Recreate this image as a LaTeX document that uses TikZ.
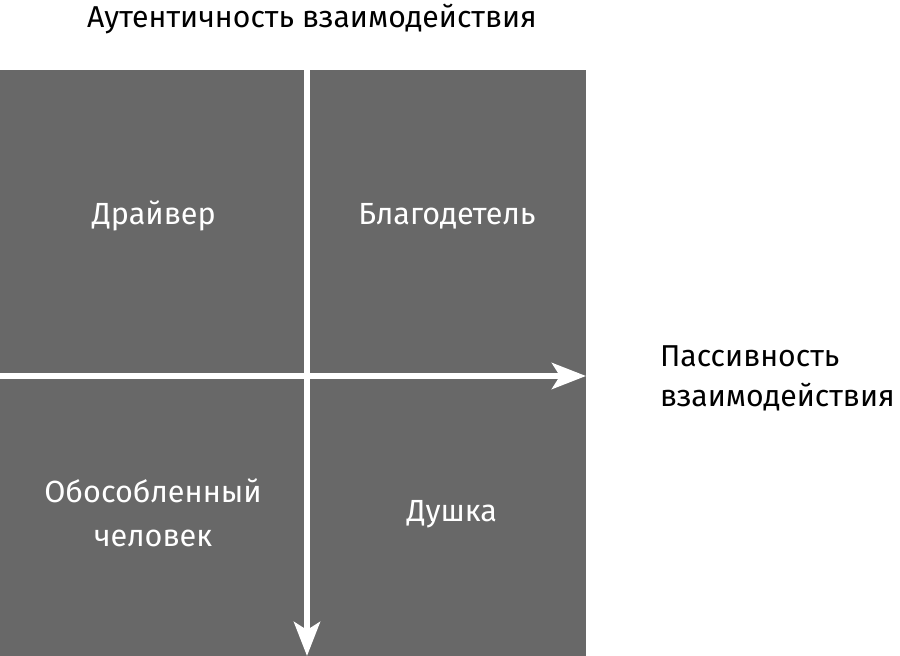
\documentclass[tikz,border=0pt]{standalone}
\usepackage{fontspec}
\setmainfont{Fira Sans}
\usetikzlibrary{arrows.meta}
\definecolor{quadgray}{RGB}{104,104,104}

\begin{document}
\begin{tikzpicture}[x=0.5pt,y=-0.5pt,
        axis/.style={white,line width=3pt,-{Stealth[length=17pt,width=13pt,inset=4pt]}},
        lbl/.style={white,font=\fontsize{15.3}{22}\selectfont,align=center},
        side/.style={black,font=\fontsize{15.1}{20}\selectfont,align=left}]
        \useasboundingbox (0,0) rectangle (900,656);
        \fill[quadgray] (0,70) rectangle (586,656);
        \coordinate(T) at (307,70);
        \coordinate(B) at (307,656);
        \coordinate(L) at (0,376);
        \coordinate(R) at (586,376);
        \draw[axis] (L)--(R);
        \draw[axis] (T)--(B);
        \node[lbl] (drv) at (154,216) {Драйвер};
        \node[lbl] (blg) at (447,216) {Благодетель};
        \node[lbl] (obs) at (153,513) {Обособленный\\человек};
        \node[lbl] (dsh) at (452,514) {Душка};
        \node[side,anchor=base] (ttl) at (312,28) {Аутентичность взаимодействия};
        \node[side,anchor=west] (pas) at (653,378) {Пассивность\\взаимодействия};
\end{tikzpicture}
\end{document}
